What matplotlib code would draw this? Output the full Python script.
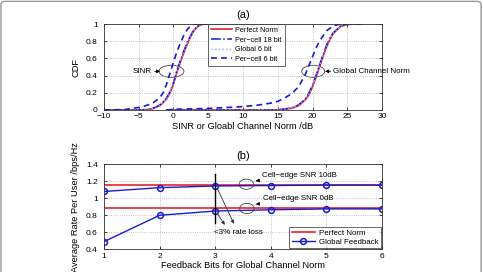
import matplotlib
matplotlib.use("Agg")
import matplotlib.pyplot as plt
from matplotlib.patches import Ellipse, FancyBboxPatch

plt.rcParams['font.family'] = ['Liberation Sans', 'DejaVu Sans']

# ---------------- data: panel (a) ----------------
x_sinr = [-10, -7, -5, -4, -3, -2, -1.5, -1, -0.5, 0, 0.5, 1, 1.5, 2, 2.5, 3, 3.5, 4, 5]
sinr_perfect = [0, 0, 0.001, 0.003, 0.015, 0.05, 0.085, 0.13, 0.2, 0.3, 0.44, 0.56, 0.67, 0.77, 0.86, 0.93, 0.97, 0.995, 1]
sinr_per18 = [0, 0, 0.001, 0.004, 0.018, 0.055, 0.09, 0.14, 0.21, 0.32, 0.46, 0.58, 0.69, 0.79, 0.87, 0.94, 0.98, 0.997, 1]
sinr_global6 = [0, 0, 0.001, 0.003, 0.016, 0.05, 0.087, 0.13, 0.2, 0.31, 0.45, 0.57, 0.68, 0.78, 0.865, 0.93, 0.975, 0.996, 1]
sinr_per6 = [0, 0.005, 0.03, 0.05, 0.08, 0.14, 0.2, 0.3, 0.43, 0.56, 0.68, 0.78, 0.87, 0.94, 0.98, 1, 1, 1, 1]

x_norm = [-1, 0, 2, 5, 8, 10, 12, 14, 15, 16, 17, 18, 19, 19.5, 20, 20.5, 21, 21.5, 22, 22.5, 23, 24, 25, 26, 27]
norm_perfect = [0, 0, 0, 0, 0, 0, 0, 0, 0.002, 0.01, 0.02, 0.05, 0.12, 0.18, 0.27, 0.38, 0.5, 0.62, 0.73, 0.82, 0.89, 0.97, 0.995, 1, 1]
norm_per18 = [0, 0, 0, 0, 0, 0, 0, 0, 0.003, 0.012, 0.025, 0.06, 0.13, 0.2, 0.29, 0.4, 0.52, 0.64, 0.75, 0.84, 0.9, 0.975, 0.997, 1, 1]
norm_global6 = [0, 0, 0, 0, 0, 0, 0, 0, 0.002, 0.01, 0.022, 0.055, 0.12, 0.19, 0.28, 0.39, 0.51, 0.63, 0.74, 0.83, 0.895, 0.972, 0.996, 1, 1]
norm_per6 = [0, 0.008, 0.012, 0.018, 0.03, 0.04, 0.055, 0.08, 0.1, 0.14, 0.19, 0.27, 0.42, 0.52, 0.62, 0.72, 0.8, 0.86, 0.92, 0.95, 0.98, 1, 1, 1, 1]

labels_a = ['Perfect Norm', 'Per\u2212cell 18 bit', 'Global 6 bit', 'Per\u2212cell 6 bit']

# ---------------- data: panel (b) ----------------
bits = [1, 2, 3, 4, 5, 6]
perfect_10db = [1.16, 1.16, 1.16, 1.16, 1.16, 1.16]
perfect_0db = [0.88, 0.88, 0.88, 0.88, 0.88, 0.88]
global_10db = [1.08, 1.125, 1.145, 1.15, 1.155, 1.155]
global_0db = [0.49, 0.80, 0.85, 0.865, 0.875, 0.875]
labels_b = ['Perfect Norm', 'Global Feedback']

RED = '#e8202a'
BLUE = '#1a1ad0'
LIGHT = '#9f9fe8'

fig = plt.figure(figsize=(4.83, 2.72), dpi=100)

# light border around the figure
fig.patches.append(FancyBboxPatch((0.002, -0.05), 0.994, 1.045,
                                  boxstyle="round,pad=0,rounding_size=0.01",
                                  transform=fig.transFigure, fill=False,
                                  edgecolor='#9a9a9a', linewidth=1.0))

def style(ax):
    ax.grid(True, linestyle=':', color='#b0b0b0', linewidth=0.6)
    ax.tick_params(direction='in', top=True, right=True, labelsize=6,
                   length=2.5, width=0.5)
    ax.tick_params(axis='y', pad=4.5)
    ax.tick_params(axis='x', pad=2.5)
    for s in ax.spines.values():
        s.set_linewidth(0.6)
        s.set_color('#333333')

# ---------- (a) ----------
axa = fig.add_axes([0.2153, 0.5956, 0.5756, 0.316])
style(axa)
for x, p, q, g, c, first in [(x_sinr, sinr_perfect, sinr_per18, sinr_global6, sinr_per6, True),
                             (x_norm, norm_perfect, norm_per18, norm_global6, norm_per6, False)]:
    axa.plot(x, p, color=RED, lw=1.2, label=labels_a[0] if first else None)
    axa.plot(x, q, color=BLUE, lw=1.1, ls='-.', label=labels_a[1] if first else None)
    axa.plot(x, g, color=LIGHT, lw=1.0, ls=':', label=labels_a[2] if first else None)
    axa.plot(x, c, color=BLUE, lw=1.2, ls=(0, (3.5, 2.5)), label=labels_a[3] if first else None)
axa.set_xlim(-10, 30)
axa.set_ylim(0, 1)
axa.set_xticks([-10, -5, 0, 5, 10, 15, 20, 25, 30])
axa.set_yticks([0, 0.2, 0.4, 0.6, 0.8, 1])
axa.set_yticklabels(['0', '0.2', '0.4', '0.6', '0.8', '1'])
axa.set_xticklabels(['\u221210', '\u22125', '0', '5', '10', '15', '20', '25', '30'])
axa.set_xlabel('SINR or Gloabl Channel Norm /dB', fontsize=6.7, labelpad=1)
axa.set_ylabel('CDF', fontsize=6.7, labelpad=4)
axa.set_title('(a)', fontsize=8, pad=4)
leg = axa.legend(loc='upper left', bbox_to_anchor=(0.374, 1.0), fontsize=5.2,
                 frameon=True, fancybox=False, edgecolor='#222222',
                 handlelength=2.9, borderpad=0.4, labelspacing=0.35, handletextpad=0.5,
                 borderaxespad=0.0)
leg.get_frame().set_linewidth(0.6)

axa.add_patch(Ellipse((-0.3, 0.45), 3.6, 0.14, fill=False, ec='#444444', lw=0.6))
axa.annotate('SINR', xy=(-1.9, 0.45), xytext=(-3.1, 0.45), fontsize=5.8,
             ha='right', va='center',
             arrowprops=dict(arrowstyle='-|>', color='black', lw=0.6, mutation_scale=5,
                             shrinkA=0, shrinkB=0))
axa.add_patch(Ellipse((20.1, 0.45), 3.3, 0.14, fill=False, ec='#444444', lw=0.6))
axa.annotate('Global Channel Norm', xy=(21.8, 0.45), xytext=(23.0, 0.45), fontsize=5.8,
             ha='left', va='center',
             arrowprops=dict(arrowstyle='-|>', color='black', lw=0.6, mutation_scale=5,
                             shrinkA=0, shrinkB=0))

# ---------- (b) ----------
axb = fig.add_axes([0.2153, 0.0835, 0.5756, 0.3125])
style(axb)
axb.plot(bits, perfect_10db, color=RED, lw=1.2, label=labels_b[0])
axb.plot(bits, perfect_0db, color=RED, lw=1.2)
axb.plot(bits, global_10db, color=BLUE, lw=1.0, marker='o', ms=4.2,
         mfc='none', mec=BLUE, mew=1.1, label=labels_b[1])
axb.plot(bits, global_0db, color=BLUE, lw=1.0, marker='o', ms=4.2,
         mfc='none', mec=BLUE, mew=1.1)
axb.set_xlim(1, 6)
axb.set_ylim(0.4, 1.4)
axb.set_xticks(bits)
axb.set_yticks([0.4, 0.6, 0.8, 1.0, 1.2, 1.4])
axb.set_yticklabels(['0.4', '0.6', '0.8', '1', '1.2', '1.4'])
axb.set_xlabel('Feedback Bits for Global Channel Norm', fontsize=6.7, labelpad=1)
axb.set_ylabel('Average Rate Per User /bps/Hz', fontsize=6.7, labelpad=4)
axb.set_title('(b)', fontsize=8, pad=4)

axb.plot([3, 3], [0.71, 1.28], color='black', lw=1.0)
axb.annotate('', xy=(3.36, 0.67), xytext=(3.02, 1.14),
             arrowprops=dict(arrowstyle='-|>', color='#333333', lw=0.6, mutation_scale=5))
axb.annotate('', xy=(3.2, 0.66), xytext=(3.02, 0.84),
             arrowprops=dict(arrowstyle='-|>', color='#333333', lw=0.6, mutation_scale=5))
axb.text(2.98, 0.595, '<3% rate loss', fontsize=5.8, ha='left', va='center')

axb.add_patch(Ellipse((3.56, 1.165), 0.26, 0.12, fill=False, ec='#444444', lw=0.6))
axb.annotate('Cell\u2212edge SNR 10dB', xy=(3.68, 1.2), xytext=(3.84, 1.27), fontsize=5.7,
             ha='left', va='center',
             arrowprops=dict(arrowstyle='-|>', color='black', lw=0.6, mutation_scale=5))
axb.add_patch(Ellipse((3.57, 0.88), 0.26, 0.12, fill=False, ec='#444444', lw=0.6))
axb.annotate('Cell\u2212edge SNR 0dB', xy=(3.68, 0.925), xytext=(3.86, 1.0), fontsize=5.7,
             ha='left', va='center',
             arrowprops=dict(arrowstyle='-|>', color='black', lw=0.6, mutation_scale=5))

legb = axb.legend(loc='lower right', fontsize=5.7, frameon=True, fancybox=False,
                  edgecolor='#222222', handlelength=3.0, borderpad=0.3,
                  labelspacing=0.25, handletextpad=0.5, borderaxespad=0.1)
legb.get_frame().set_linewidth(0.6)

fig.savefig('out.png', dpi=100)
